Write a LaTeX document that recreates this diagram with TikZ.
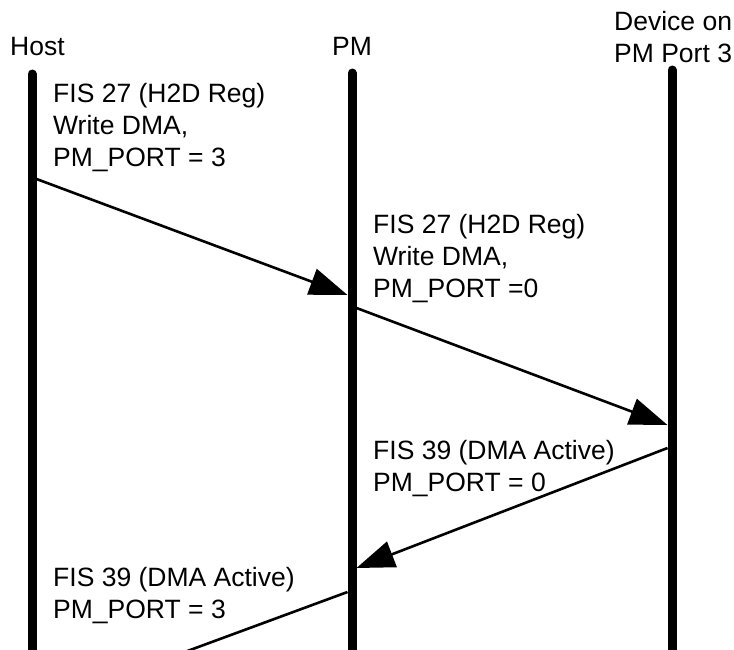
\documentclass[tikz,border=0pt]{standalone}
\usepackage{fontspec}
\setmainfont{Liberation Sans}
\usetikzlibrary{arrows.meta}
\begin{document}
\begin{tikzpicture}[x=1pt,y=-1pt,
  lbl/.style={font=\fontsize{26.5}{31.7}\selectfont, inner sep=0pt, align=left},
  lifeline/.style={line width=9pt, line cap=round},
  msg/.style={line width=2.6pt, -{Triangle[length=38pt,width=27pt]}},
  msgopen/.style={line width=2.6pt}]
\useasboundingbox (0,0) rectangle (734,649);
\clip (0,0) rectangle (734,649);
% headers
\node[lbl, anchor=base west] (host) at (10,55) {Host};
\node[lbl, anchor=base] (pm) at (352,55) {PM};
\node[lbl, anchor=base west] (dev) at (614,62) {Device on\\PM Port 3};
% lifelines
\coordinate (hTop) at (32,74);   \coordinate (hBot) at (32,665);
\coordinate (pTop) at (352,73);  \coordinate (pBot) at (352,665);
\coordinate (dTop) at (672,70);  \coordinate (dBot) at (672,665);
\draw[lifeline] (hTop) -- (hBot);
\draw[lifeline] (pTop) -- (pBot);
\draw[lifeline] (dTop) -- (dBot);
% message end points
\coordinate (m1s) at (36.5,179);
\coordinate (m1e) at (347.5,295);
\coordinate (m2s) at (356.5,308);
\coordinate (m2e) at (667.5,425);
\coordinate (m3s) at (667.5,448);
\coordinate (m3e) at (356.5,568);
\coordinate (m4s) at (347.5,592);
\coordinate (m4e) at (163,660);
\draw[msg] (m1s) -- (m1e);
\draw[msg] (m2s) -- (m2e);
\draw[msg] (m3s) -- (m3e);
\draw[msgopen] (m4s) -- (m4e);
% labels (anchor = baseline of the last line)
\node[lbl, anchor=base west] (l1) at (53,166) {FIS 27 (H2D Reg)\\Write DMA,\\PM\_PORT = 3};
\node[lbl, anchor=base west] (l2) at (373,297) {FIS 27 (H2D Reg)\\Write DMA,\\PM\_PORT =0};
\node[lbl, anchor=base west] (l3) at (373,491) {FIS 39 (DMA Active)\\PM\_PORT = 0};
\node[lbl, anchor=base west] (l4) at (53,618) {FIS 39 (DMA Active)\\PM\_PORT = 3};
\end{tikzpicture}
\end{document}
